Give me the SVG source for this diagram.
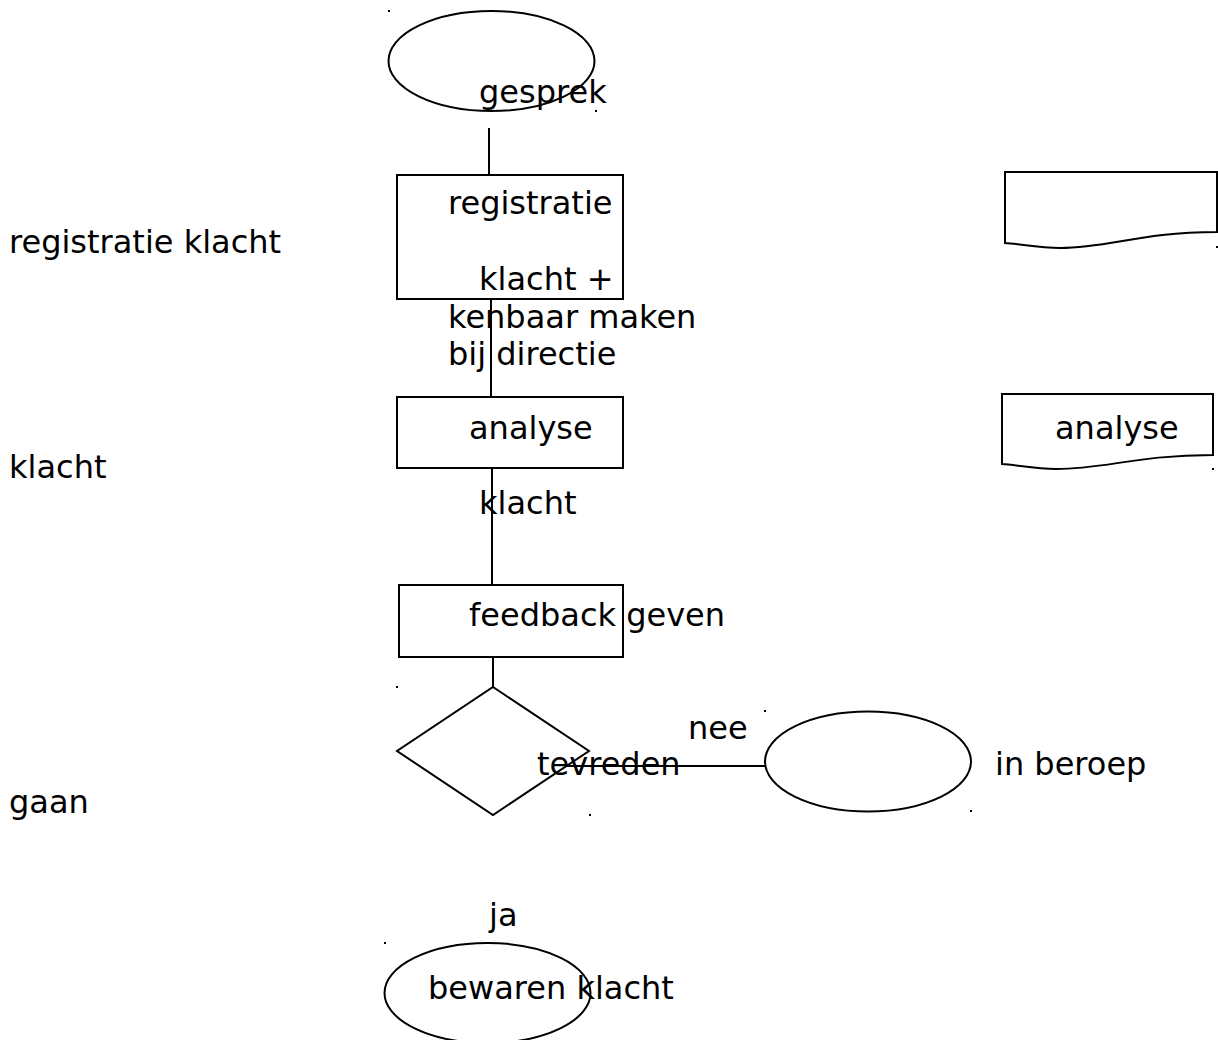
<svg xmlns="http://www.w3.org/2000/svg" width="1218" height="1040" viewBox="0 0 1218 1040">
<style>
.s{fill:#fff;stroke:#000;stroke-width:2}
.c{fill:none;stroke:#000;stroke-width:2}
text{font-family:"DejaVu Sans",sans-serif;font-size:32px;fill:#000}
.d{fill:#000}
</style>
<rect width="1218" height="1040" fill="#fff"/>
<g id="start">
<ellipse class="s" cx="491.5" cy="61" rx="103" ry="50"/>
<rect class="d" x="388" y="10" width="2" height="2"/>
<rect class="d" x="595" y="110" width="2" height="2"/>
</g>
<g id="registratie">
<rect class="s" x="397" y="175" width="226" height="124"/>
</g>
<g id="analyse">
<rect class="s" x="397" y="397" width="226" height="71"/>
</g>
<g id="feedback">
<rect class="s" x="399" y="585" width="224" height="72"/>
</g>
<g id="tevreden">
<polygon class="s" points="493,687 589,751 493,815 397,751"/>
<rect class="d" x="396" y="686" width="2" height="2"/>
<rect class="d" x="589" y="814" width="2" height="2"/>
</g>
<g id="beroep">
<ellipse class="s" cx="868" cy="761.5" rx="103" ry="50"/>
<rect class="d" x="764" y="710" width="2" height="2"/>
<rect class="d" x="970" y="810" width="2" height="2"/>
</g>
<g id="bewaren">
<ellipse class="s" cx="487.5" cy="993" rx="103" ry="50"/>
<rect class="d" x="384" y="942" width="2" height="2"/>
</g>
<g id="doc1">
<path class="s" d="M1005,172 H1217 V232 C1140,232 1110,248 1060,248 C1040,248 1020,244 1005,243 Z"/>
<rect class="d" x="1216" y="246" width="2" height="2"/>
</g>
<g id="doc2">
<path class="s" d="M1002,394 H1213 V455 C1136,455 1106,469 1056,469 C1036,469 1017,465 1002,464 Z"/>
<rect class="d" x="1212" y="468" width="2" height="2"/>
</g>
<g id="connectors">
<line class="c" x1="489" y1="128" x2="489" y2="175"/>
<line class="c" x1="491" y1="299" x2="491" y2="397"/>
<line class="c" x1="492" y1="468" x2="492" y2="585"/>
<line class="c" x1="493" y1="657" x2="493" y2="687"/>
<line class="c" x1="566" y1="766" x2="765" y2="766"/>
</g>
<g id="labels">
<text x="479" y="103">gesprek</text>
<text x="448" y="214">registratie</text>
<text x="479" y="290">klacht +</text>
<text x="448" y="328">kenbaar maken</text>
<text x="448" y="365">bij directie</text>
<text x="469" y="439">analyse</text>
<text x="479" y="514">klacht</text>
<text x="469" y="626">feedback geven</text>
<text x="688" y="739">nee</text>
<text x="537" y="775">tevreden</text>
<text x="995" y="775">in beroep</text>
<text x="489" y="926">ja</text>
<text x="428" y="999">bewaren klacht</text>
<text x="1055" y="439">analyse</text>
<text x="9" y="253">registratie klacht</text>
<text x="9" y="478">klacht</text>
<text x="9" y="813">gaan</text>
</g>
</svg>
